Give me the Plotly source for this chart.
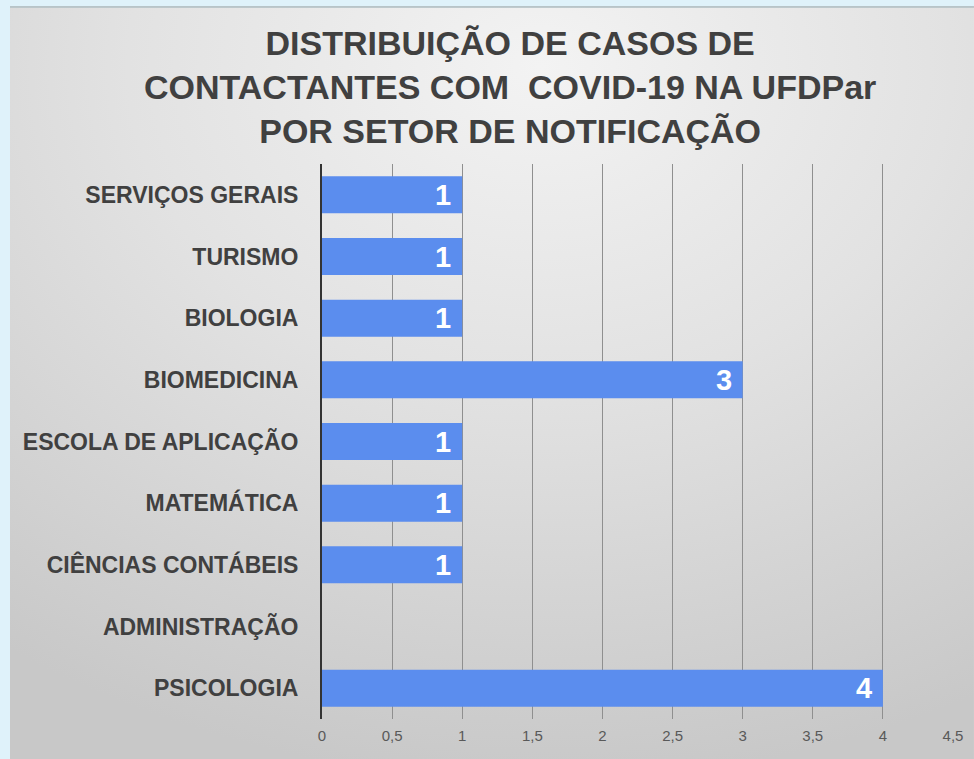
import base64
import plotly.graph_objects as go

categories = ["SERVIÇOS GERAIS", "TURISMO", "BIOLOGIA", "BIOMEDICINA",
              "ESCOLA DE APLICAÇÃO", "MATEMÁTICA", "CIÊNCIAS CONTÁBEIS",
              "ADMINISTRAÇÃO", "PSICOLOGIA"]
values = [1, 1, 1, 3, 1, 1, 1, 0, 4]
tick_vals = [0, 0.5, 1, 1.5, 2, 2.5, 3, 3.5, 4, 4.5]

title = "DISTRIBUIÇÃO DE CASOS DE<br>CONTACTANTES COM  COVID-19 NA UFDPar<br>POR SETOR DE NOTIFICAÇÃO"

FONT = "Liberation Sans, Arial, sans-serif"

svg = ('<svg xmlns="http://www.w3.org/2000/svg" width="100" height="100" preserveAspectRatio="none">'
       '<defs><radialGradient id="g" cx="0.55" cy="0.08" r="0.95" fx="0.55" fy="0.08">'
       '<stop offset="0" stop-color="#f3f3f3"/><stop offset="0.45" stop-color="#e2e2e2"/>'
       '<stop offset="1" stop-color="#c8c8c8"/></radialGradient></defs>'
       '<rect width="100" height="100" fill="url(#g)"/>'
       '<rect width="100" height="0.25" fill="#b8c4c8"/></svg>')
bg_src = "data:image/svg+xml;base64," + base64.b64encode(svg.encode()).decode()

fig = go.Figure()
fig.add_trace(go.Bar(
    x=values, y=categories, orientation="h",
    marker=dict(color="#5B8DEE", line=dict(width=0)),
    width=0.6, hoverinfo="x+y",
))

label_annotations = [
    dict(text="<b>%d</b>" % v, x=v, y=c, xref="x", yref="y", xanchor="right", yanchor="middle",
         xshift=-9, showarrow=False, font=dict(family=FONT, size=29, color="white"))
    for c, v in zip(categories, values) if v
]

fig.update_layout(
    width=974, height=759,
    paper_bgcolor="#dff2fa",
    plot_bgcolor="rgba(0,0,0,0)",
    separators=",.",
    margin=dict(l=322, r=21, t=164, b=40, pad=0),
    showlegend=False,
    xaxis=dict(range=[0, 4.5], tickvals=tick_vals, showgrid=True, gridcolor="#8f8f8f", gridwidth=1,
               zeroline=False, showline=False, ticks="", ticklabelstandoff=6,
               tickfont=dict(family=FONT, size=15, color="#595959")),
    yaxis=dict(autorange="reversed", showline=True, linecolor="#333333", linewidth=2,
               ticks="", ticklabelstandoff=17,
               tickfont=dict(family=FONT, size=23, color="#404040", weight="bold")),
    annotations=[dict(text="<b>" + title + "</b>", xref="paper", yref="paper",
                      x=0.298, y=1.1396, xanchor="center", yanchor="middle",
                      showarrow=False, align="center",
                      font=dict(family=FONT, size=34, color="#404040"))] + label_annotations,
    images=[dict(source=bg_src, xref="paper", yref="paper", x=-0.4945, y=1.2847,
                 sizex=1.5277, sizey=1.3568, sizing="stretch", xanchor="left", yanchor="top",
                 layer="below")],
)

fig.write_html("out.html", config={"displayModeBar": False},
               post_script="document.body.style.margin='0';document.body.style.overflow='hidden';")
